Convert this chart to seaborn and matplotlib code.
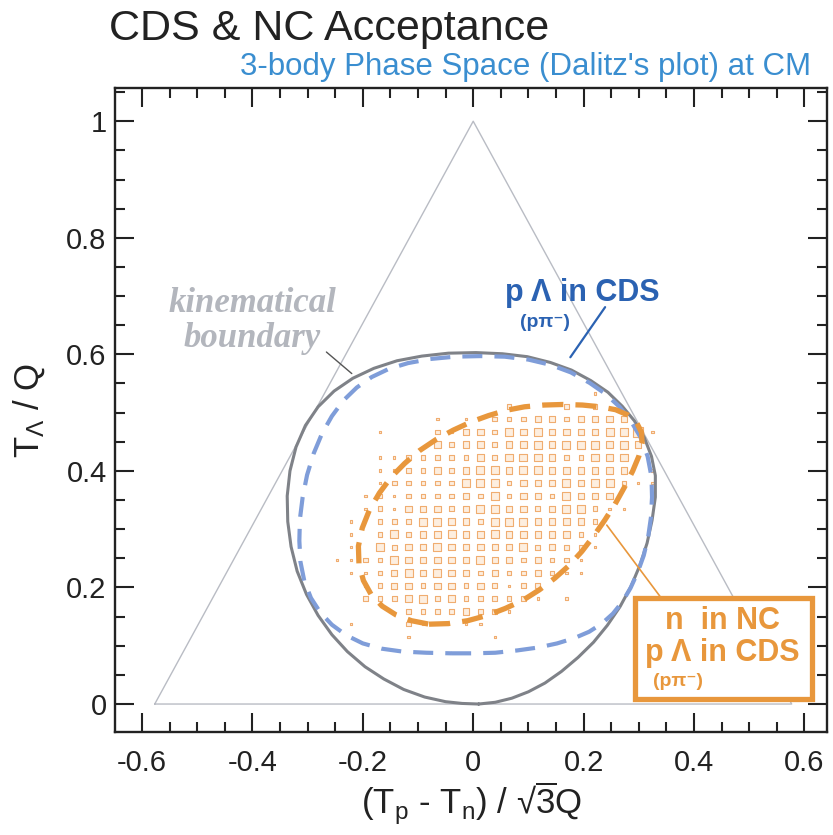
import numpy as np
import pandas as pd
import matplotlib
matplotlib.use("Agg")
import matplotlib.pyplot as plt
from matplotlib.patches import Rectangle
from matplotlib.ticker import MultipleLocator
import seaborn as sns

# ---- Dalitz triangle (all three kinetic energies >= 0) ----
triangle_x = [-0.577, 0.577, 0.0, -0.577]
triangle_y = [0.0, 0.0, 1.0, 0.0]

# ---- kinematical boundary (relativistic) ----
boundary_x = [0.010, 0.040, 0.070, 0.100, 0.130, 0.160, 0.190, 0.218, 0.243, 0.266,
              0.286, 0.302, 0.315, 0.324, 0.330, 0.330, 0.323, 0.310, 0.292, 0.270,
              0.244, 0.213, 0.178, 0.140, 0.098, 0.053, 0.005, -0.045, -0.093, -0.138,
              -0.180, -0.218, -0.252, -0.281, -0.304, -0.321, -0.332, -0.337, -0.336, -0.330,
              -0.319, -0.302, -0.281, -0.256, -0.228, -0.196, -0.162, -0.126, -0.088, -0.050,
              -0.020, 0.010]
boundary_y = [0.000, 0.003, 0.010, 0.021, 0.036, 0.056, 0.080, 0.106, 0.135, 0.167,
              0.202, 0.238, 0.276, 0.315, 0.355, 0.392, 0.425, 0.457, 0.486, 0.511,
              0.535, 0.555, 0.573, 0.586, 0.596, 0.601, 0.603, 0.602, 0.597, 0.589,
              0.576, 0.559, 0.537, 0.510, 0.478, 0.441, 0.400, 0.357, 0.313, 0.270,
              0.228, 0.188, 0.152, 0.119, 0.090, 0.064, 0.043, 0.025, 0.012, 0.004,
              0.001, 0.000]

# ---- p Lambda (p pi-) accepted in CDS ----
cds_x = [-0.040, 0.000, 0.040, 0.080, 0.118, 0.152, 0.183, 0.210, 0.233, 0.253,
         0.270, 0.285, 0.298, 0.309, 0.317, 0.322, 0.324, 0.323, 0.316, 0.303,
         0.286, 0.265, 0.240, 0.211, 0.177, 0.140, 0.100, 0.057, 0.013, -0.033,
         -0.078, -0.118, -0.153, -0.184, -0.211, -0.235, -0.256, -0.274, -0.289, -0.301,
         -0.309, -0.314, -0.315, -0.313, -0.306, -0.294, -0.277, -0.256, -0.230, -0.200,
         -0.166, -0.128, -0.085, -0.040]
cds_y = [0.087, 0.087, 0.088, 0.092, 0.097, 0.104, 0.113, 0.124, 0.138, 0.155,
         0.175, 0.199, 0.226, 0.255, 0.287, 0.320, 0.355, 0.390, 0.425, 0.458,
         0.485, 0.510, 0.532, 0.551, 0.569, 0.582, 0.591, 0.596, 0.597, 0.596,
         0.592, 0.585, 0.575, 0.561, 0.543, 0.521, 0.494, 0.464, 0.430, 0.393,
         0.355, 0.317, 0.280, 0.244, 0.211, 0.182, 0.157, 0.136, 0.118, 0.104,
         0.095, 0.090, 0.088, 0.087]

# ---- n in NC + p Lambda in CDS ----
nc_x = [-0.080, -0.045, -0.010, 0.025, 0.058, 0.090, 0.120, 0.148, 0.174, 0.197,
        0.218, 0.238, 0.257, 0.274, 0.289, 0.300, 0.306, 0.305, 0.296, 0.280,
        0.258, 0.230, 0.198, 0.163, 0.128, 0.093, 0.060, 0.028, -0.004, -0.036,
        -0.067, -0.097, -0.124, -0.149, -0.170, -0.188, -0.201, -0.208, -0.207, -0.199,
        -0.185, -0.165, -0.140, -0.112, -0.080]
nc_y = [0.137, 0.138, 0.143, 0.152, 0.164, 0.178, 0.196, 0.216, 0.238, 0.262,
        0.288, 0.315, 0.343, 0.372, 0.400, 0.425, 0.447, 0.466, 0.483, 0.496,
        0.505, 0.510, 0.513, 0.514, 0.513, 0.510, 0.504, 0.495, 0.484, 0.470,
        0.454, 0.435, 0.413, 0.389, 0.362, 0.333, 0.302, 0.271, 0.241, 0.212,
        0.188, 0.168, 0.153, 0.143, 0.137]

# ---- 2D acceptance histogram (box levels), 50 x 50 bins ----
x_edges = np.linspace(-0.65, 0.65, 51)
y_edges = np.linspace(-0.05, 1.05, 51)
first_col = 15   # x-bin index of the first character in each row
top_row = 26     # y-bin index of the first row
acceptance_rows = [
    "00000000000000000010000",
    "00000000000020002020000",
    "00000001010222332333300",
    "00010002133243433334451",
    "00000003233233434443430",
    "00011222223244432243400",
    "00011223234434433333301",
    "00012222244423334344211",
    "00121222232423324333000",
    "00121333234433234421100",
    "01022244332444333320000",
    "01024233433433333210000",
    "01042334333334232210000",
    "11224333334332322100000",
    "01123434332322321100000",
    "00123323323212200000000",
    "00222342322222101000000",
    "00000222232210000000000",
    "01000210011000000000000",
    "00000100000100000000000",
]

x_ticks = [-0.6, -0.4, -0.2, 0.0, 0.2, 0.4, 0.6]
x_tick_labels = ["-0.6", "-0.4", "-0.2", "0", "0.2", "0.4", "0.6"]
y_ticks = [0.0, 0.2, 0.4, 0.6, 0.8, 1.0]
y_tick_labels = ["0", "0.2", "0.4", "0.6", "0.8", "1"]

# build the long table for the box histogram
records = []
for r, row in enumerate(acceptance_rows):
    k = top_row - r
    yc = 0.5 * (y_edges[k] + y_edges[k + 1])
    for c, ch in enumerate(row):
        level = int(ch)
        if level > 0:
            j = first_col + c
            xc = 0.5 * (x_edges[j] + x_edges[j + 1])
            records.append((xc, yc, level))
boxes = pd.DataFrame(records, columns=["x", "y", "level"])

sns.set_style("ticks")
plt.rcParams["font.family"] = ["Liberation Sans", "DejaVu Sans"]
plt.rcParams["mathtext.fontset"] = "custom"
plt.rcParams["mathtext.rm"] = "Liberation Sans"
plt.rcParams["mathtext.it"] = "Liberation Sans:italic"
plt.rcParams["mathtext.bf"] = "Liberation Sans:bold"

W, H = 833, 835
fig = plt.figure(figsize=(W / 100, H / 100), dpi=100)
ax = fig.add_axes([115 / W, 1 - 732 / H, (827 - 115) / W, (732 - 88) / H])

ORANGE = "#e8973c"
BLUE_DASH = "#7f9dd9"
GREY = "#7f8288"

# triangle
sns.lineplot(x=triangle_x, y=triangle_y, sort=False, estimator=None, ax=ax,
             color="#b9bcc4", linewidth=1.0)

# acceptance boxes
sns.scatterplot(data=boxes, x="x", y="y", size="level",
                sizes={1: 3.0, 2: 11.0, 3: 21.0, 4: 33.0, 5: 50.0},
                marker="s", color="#fdeedf", edgecolor="#f0ad70", linewidth=0.8,
                legend=False, ax=ax, zorder=3)

# kinematical boundary
sns.lineplot(x=boundary_x, y=boundary_y, sort=False, estimator=None, ax=ax,
             color=GREY, linewidth=2.2, zorder=4)

# CDS acceptance contour
sns.lineplot(x=cds_x, y=cds_y, sort=False, estimator=None, ax=ax,
             color=BLUE_DASH, linewidth=3.0, zorder=5)
ax.lines[-1].set_dashes((4.8, 2.9))

# NC + CDS acceptance contour
sns.lineplot(x=nc_x, y=nc_y, sort=False, estimator=None, ax=ax,
             color=ORANGE, linewidth=3.8, zorder=6)
ax.lines[-1].set_dashes((4.0, 2.3))

ax.set_xlim(-0.649, 0.641)
ax.set_ylim(-0.048, 1.057)
ax.set_xticks(x_ticks)
ax.set_xticklabels(x_tick_labels)
ax.set_yticks(y_ticks)
ax.set_yticklabels(y_tick_labels)
ax.xaxis.set_minor_locator(MultipleLocator(0.05))
ax.yaxis.set_minor_locator(MultipleLocator(0.05))
ax.tick_params(which="both", direction="in", top=True, right=True,
               color="#222222", labelsize=21, labelcolor="#222222")
ax.tick_params(which="major", length=14, width=1.5)
ax.tick_params(which="minor", length=7, width=1.5)
ax.tick_params(axis="x", pad=12)
ax.tick_params(axis="y", pad=6)
for sp in ax.spines.values():
    sp.set_linewidth(1.7)
    sp.set_color("#222222")

ax.set_xlabel("(T$_{\\rm p}$ - T$_{\\rm n}$) / \u221a$\\overline{\\rm 3}$Q",
              fontsize=25, color="#222222", labelpad=2)
ax.set_ylabel(r"T$_{\Lambda}$ / Q", fontsize=25, color="#222222", labelpad=14)

# annotations
ax.text(-0.40, 0.657, "kinematical\nboundary", ha="center", va="center",
        family="Liberation Serif", style="italic", weight="bold",
        fontsize=25, color="#b3b6bd", linespacing=1.05, zorder=7)
ax.plot([-0.266, -0.220], [0.604, 0.567], color="#555555", linewidth=1.0, zorder=7)

ax.text(0.058, 0.706, "p \u039b in CDS", ha="left", va="center", weight="bold",
        fontsize=22, color="#2b62b2", zorder=7)
ax.text(0.085, 0.655, "(p\u03c0\u207b)", ha="left", va="center", weight="bold",
        fontsize=14, color="#2b62b2", zorder=7)
ax.plot([0.239, 0.176], [0.681, 0.595], color="#2b62b2", linewidth=1.6, zorder=7)

ax.plot([0.242, 0.339], [0.307, 0.184], color=ORANGE, linewidth=1.2, zorder=7)
ax.add_patch(Rectangle((0.293, 0.008), 0.320, 0.174, fill=True, facecolor="white",
                       edgecolor=ORANGE, linewidth=3.8, zorder=8))
ax.text(0.452, 0.142, "n  in NC", ha="center", va="center", weight="bold",
        fontsize=22, color=ORANGE, zorder=9)
ax.text(0.452, 0.088, "p \u039b in CDS", ha="center", va="center", weight="bold",
        fontsize=22, color=ORANGE, zorder=9)
ax.text(0.325, 0.038, "(p\u03c0\u207b)", ha="left", va="center", weight="bold",
        fontsize=14, color=ORANGE, zorder=9)

fig.text(109 / W, 1 - 29 / H, "CDS & NC Acceptance", ha="left", va="center",
         fontsize=31, color="#222222")
fig.text(811 / W, 1 - 67 / H, "3-body Phase Space (Dalitz's plot) at CM",
         ha="right", va="center", fontsize=22.5, color="#3a8ed0")

fig.savefig("out.png", dpi=100)
